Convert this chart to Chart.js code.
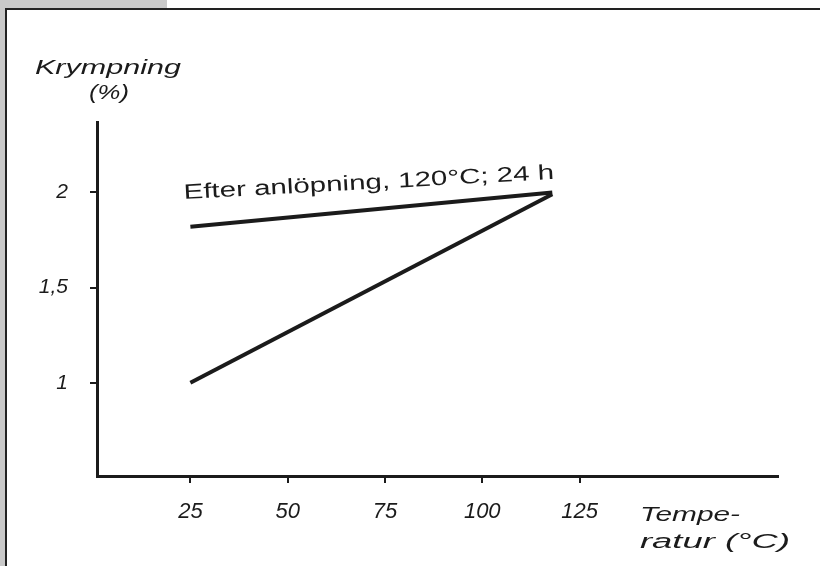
<!DOCTYPE html>
<html>
<head>
<meta charset="utf-8">
<script src="https://cdn.jsdelivr.net/npm/chart.js@4/dist/chart.umd.min.js"></script>
<style>
  body { margin: 0; background: #c9c9c9; width: 820px; height: 566px; overflow: hidden; position: relative; }
  #ark { position: absolute; left: 5px; top: 8px; right: 0; bottom: 0; background: #fff;
         border-top: 2px solid #222; border-left: 2px solid #222; }
  #grafKrymp { position: absolute; left: 0; top: 0; }
  #stripe { position: absolute; left: 167px; top: 0; width: 653px; height: 8px; background: #fff; }
</style>
</head>
<body>
<div id="stripe"></div>
<div id="ark"></div>
<canvas id="grafKrymp" width="820" height="566"></canvas>
<script>
// Data
const temperaturer = [25, 118];
const krympningFore = [1.0, 1.99];
const krympningEfter = [1.82, 2.0];
const xTicks = [25, 50, 75, 100, 125];
const yTicks = [1, 1.5, 2];
const yTickText = { 1: '1', 1.5: '1,5', 2: '2' };

const svart = '#1b1b1b';
const fontFamily = '"Liberation Sans", Arial, sans-serif';

// skriver text utsträckt till en given bredd
function breddText(ctx, text, x, y, bredd, vinkel) {
    const w = ctx.measureText(text).width;
    ctx.save();
    ctx.translate(x, y);
    if (vinkel) ctx.rotate(vinkel * Math.PI / 180);
    ctx.scale(bredd / w, 1);
    ctx.fillText(text, 0, 0);
    ctx.restore();
}

// Texter ritas direkt på canvasen
const textPlugin = {
    id: 'texter',
    afterDraw(chart) {
        const ctx = chart.ctx;
        ctx.save();
        ctx.fillStyle = svart;
        ctx.textBaseline = 'alphabetic';
        ctx.textAlign = 'left';
        ctx.font = 'italic 21px ' + fontFamily;
        breddText(ctx, 'Krympning', 35, 74, 146);
        breddText(ctx, '(%)', 89, 99, 40);
        ctx.font = 'italic 20px ' + fontFamily;
        breddText(ctx, 'Tempe-', 640, 521, 100);
        breddText(ctx, 'ratur (°C)', 640, 548, 150);
        // kurvetikett, lätt lutande
        ctx.font = '21px ' + fontFamily;
        breddText(ctx, 'Efter anlöpning, 120°C; 24 h', 184, 199, 371, -3.1);
        ctx.restore();
    }
};

window.onload = function() {
    const ctx = document.getElementById('grafKrymp').getContext('2d');
    new Chart(ctx, {
        type: 'line',
        data: {
            datasets: [
                {
                    label: 'Före',
                    data: temperaturer.map((t, i) => ({ x: t, y: krympningFore[i] })),
                    borderColor: svart,
                    borderWidth: 4,
                    pointRadius: 0,
                    tension: 0
                },
                {
                    label: 'Efter anlöpning',
                    data: temperaturer.map((t, i) => ({ x: t, y: krympningEfter[i] })),
                    borderColor: svart,
                    borderWidth: 4,
                    pointRadius: 0,
                    tension: 0
                }
            ]
        },
        options: {
            responsive: false,
            animation: false,
            layout: { padding: { top: 122, right: 42, left: 0, bottom: 0 } },
            plugins: { legend: { display: false }, tooltip: { enabled: false } },
            scales: {
                x: {
                    type: 'linear',
                    min: 1,
                    max: 176,
                    afterBuildTicks: s => { s.ticks = xTicks.map(v => ({ value: v })); },
                    afterFit: s => { s.height = 90; },
                    border: { color: svart, width: 3 },
                    grid: { drawOnChartArea: false, color: svart, lineWidth: 2, tickLength: 7 },
                    ticks: {
                        color: svart,
                        padding: 16,
                        font: { family: fontFamily, size: 22, style: 'italic' },
                        callback: v => String(v)
                    }
                },
                y: {
                    type: 'linear',
                    min: 0.51,
                    max: 2.37,
                    afterBuildTicks: s => { s.ticks = yTicks.map(v => ({ value: v })); },
                    afterFit: s => { s.width = 97; },
                    border: { color: svart, width: 3 },
                    grid: { drawOnChartArea: false, color: svart, lineWidth: 2, tickLength: 7 },
                    ticks: {
                        color: svart,
                        padding: 22,
                        font: { family: fontFamily, size: 21, style: 'italic' },
                        callback: v => yTickText[v] || ''
                    }
                }
            }
        },
        plugins: [textPlugin]
    });
};
</script>
</body>
</html>
